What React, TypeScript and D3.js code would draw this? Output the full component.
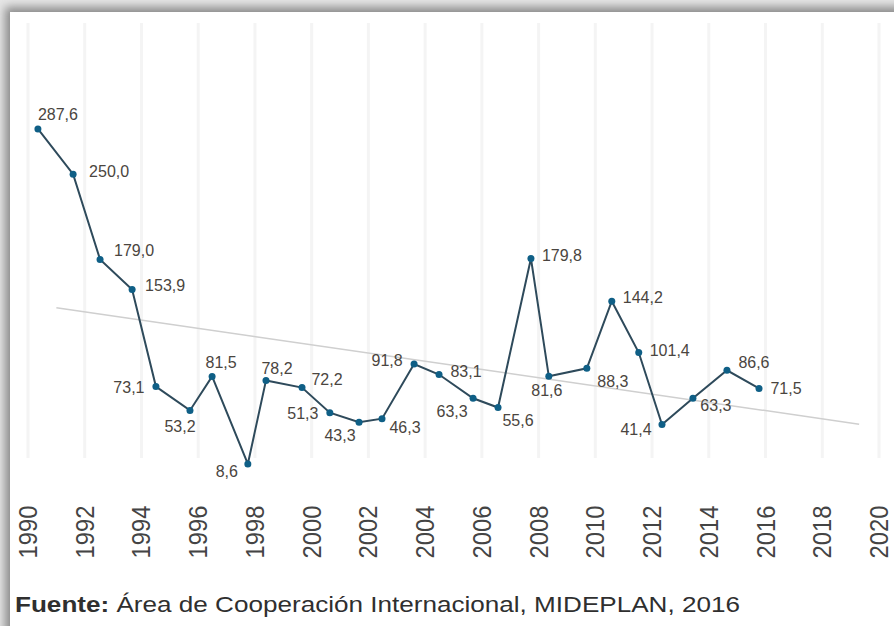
import * as d3 from "d3";

// years as drawn in the source (the points sit a bit off the grid)
const yearPos = [
  1990.35, 1991.59, 1992.54, 1993.67, 1994.51, 1995.71, 1996.49, 1997.75, 1998.39, 1999.66,
  2000.64, 2001.67, 2002.48, 2003.61, 2004.49, 2005.69, 2006.57, 2007.73, 2008.36, 2009.7,
  2010.58, 2011.53, 2012.35, 2013.44, 2014.64, 2015.77,
];
const values = [
  287.6, 250.0, 179.0, 153.9, 73.1, 53.2, 81.5, 8.6, 78.2, 72.2, 51.3, 43.3, 46.3, 91.8, 83.1,
  63.3, 55.6, 179.8, 81.6, 88.3, 144.2, 101.4, 41.4, 63.3, 86.6, 71.5,
];
const gridYears = d3.range(1990, 2021, 2);
const trendSpan = [1991, 2019.3];
const footSource = "Área de Cooperación Internacional, MIDEPLAN, 2016";

// label offsets (dx, dy) from each point
const labelOffset: [number, number][] = [
  [20, -14], [36, -3], [34, -9], [33, -4], [-27, 1], [-10, 16], [9, -14], [-21, 8], [11, -12],
  [25, -8], [-27, 1], [-19, 13], [23, 9], [-27, -4], [27, -3], [-21, 13], [20, 13], [31, -3],
  [-2, 14], [26, 13], [31, -4], [31, -2], [-26, 5], [23, 7], [27, -8], [27, 0],
];

const width = 894;
const height = 626;

export default function App() {
  const x = d3.scaleLinear([1990, 2020], [28, 879]);
  const y = d3.scaleLinear([0, 300], [474.3, 114.1]);

  const pts = values.map((v, i) => [yearPos[i], v] as [number, number]);
  const line = d3.line<[number, number]>().x(d => x(d[0])).y(d => y(d[1]));

  // least squares trend
  const mx = d3.mean(yearPos)!;
  const my = d3.mean(values)!;
  const slope =
    d3.sum(pts, d => (d[0] - mx) * (d[1] - my)) / d3.sum(pts, d => (d[0] - mx) ** 2);
  const trend = trendSpan.map(t => [t, my + slope * (t - mx)] as [number, number]);

  const fmt = (v: number) => v.toFixed(1).replace(".", ",");
  const font = "'Liberation Sans', Arial, sans-serif";

  return (
    <svg width={width} height={height} style={{ position: "absolute", left: 0, top: 0 }}>
      <defs>
        <filter id="blur" x="-10%" y="-10%" width="120%" height="120%">
          <feGaussianBlur stdDeviation="5" />
        </filter>
      </defs>
      <rect width={width} height={height} fill="#e6e6e6" />
      <rect x={5} y={7} width={width + 40} height={height + 40} fill="#8a8a8a" filter="url(#blur)" />
      <rect x={10} y={12} width={width} height={height} fill="#fff" />

      <g stroke="#f4f4f4" strokeWidth={3}>
        {gridYears.map(g => (
          <line key={g} x1={x(g)} x2={x(g)} y1={23} y2={458} />
        ))}
      </g>

      <path d={line(trend)!} fill="none" stroke="#cfcfcf" strokeWidth={1.5} />
      <path d={line(pts)!} fill="none" stroke="#2e4a5b" strokeWidth={2} />
      <g fill="#0f5f86">
        {pts.map((d, i) => (
          <circle key={i} cx={x(d[0])} cy={y(d[1])} r={3.5} />
        ))}
      </g>
      <g fontFamily={font} fontSize={16} fill="#4a4540" textAnchor="middle">
        {pts.map((d, i) => (
          <text
            key={i}
            x={x(d[0]) + labelOffset[i][0]}
            y={y(d[1]) + labelOffset[i][1]}
            dominantBaseline="central"
          >
            {fmt(d[1])}
          </text>
        ))}
      </g>

      <g fontFamily={font} fontSize={26} fill="#444" textAnchor="middle">
        {gridYears.map(g => (
          <text
            key={g}
            transform={`translate(${x(g)},532) rotate(-90)`}
            dominantBaseline="central"
            textLength={53}
            lengthAdjust="spacingAndGlyphs"
          >
            {g}
          </text>
        ))}
      </g>

      <text
        x={15}
        y={612}
        fontFamily={font}
        fontSize={22}
        fill="#2f2f2f"
        textLength={725}
        lengthAdjust="spacingAndGlyphs"
      >
        <tspan fontWeight="bold">Fuente:</tspan> {footSource}
      </text>
    </svg>
  );
}
